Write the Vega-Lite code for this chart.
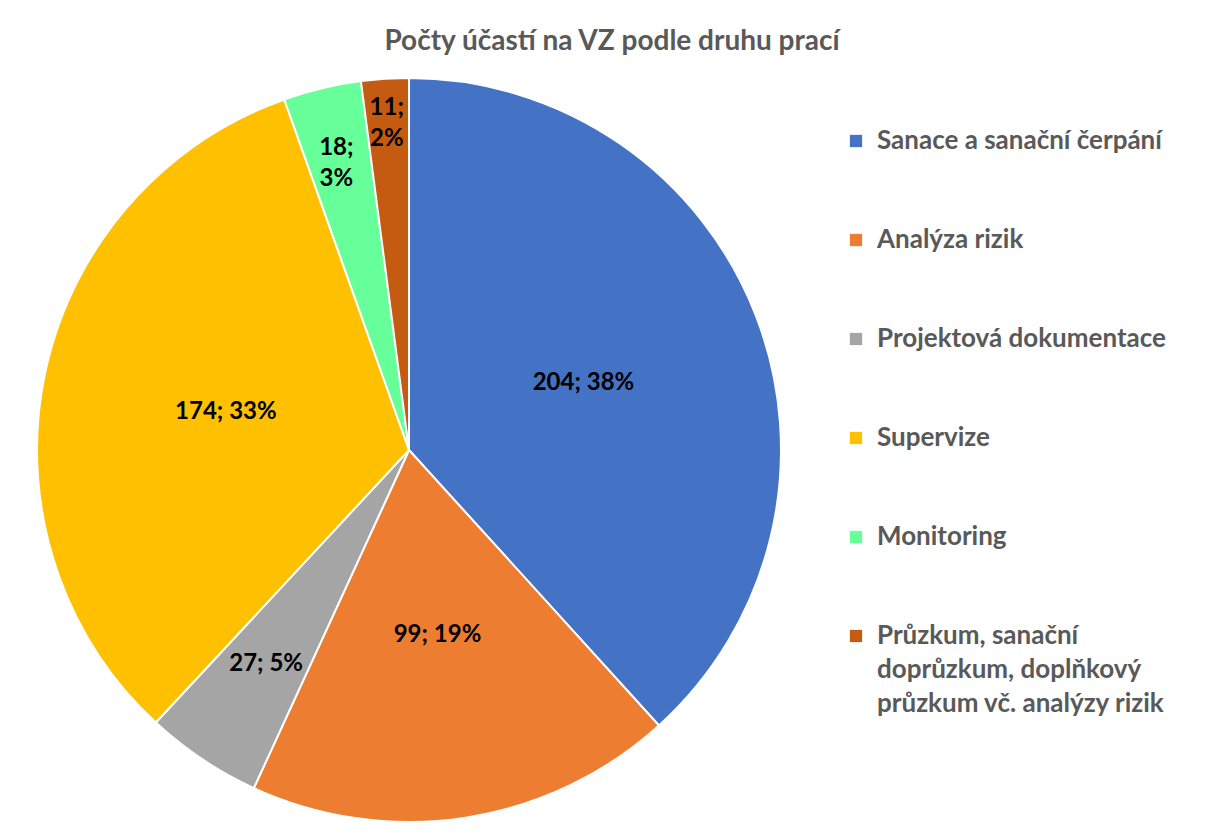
{
  "$schema": "https://vega.github.io/schema/vega-lite/v6.json",
  "padding": {"left": 0, "top": 28, "right": 0, "bottom": 0},
  "width": 818,
  "height": 784,
  "background": "white",
  "title": {
    "text": "Počty účastí na VZ podle druhu prací",
    "fontSize": 28,
    "font": "Lato",
    "fontWeight": "bold",
    "color": "#595959",
    "anchor": "middle",
    "dx": 203,
    "offset": 2
  },
  "data": {
    "values": [
      {"category": "Sanace a sanační čerpání", "count": 204},
      {"category": "Analýza rizik", "count": 99},
      {"category": "Projektová dokumentace", "count": 27},
      {"category": "Supervize", "count": 174},
      {"category": "Monitoring", "count": 18},
      {"category": "Průzkum, sanační doprůzkum, doplňkový průzkum vč. analýzy rizik", "count": 11}
    ]
  },
  "transform": [
    {"window": [{"op": "row_number", "as": "idx"}]},
    {"joinaggregate": [{"op": "sum", "field": "count", "as": "total"}]},
    {"calculate": "format(datum.count / datum.total, '.0%')", "as": "pct"},
    {"calculate": "datum.count < 20 ? [datum.count + ';', datum.pct] : datum.count + '; ' + datum.pct", "as": "label"}
  ],
  "encoding": {
    "theta": {"field": "count", "type": "quantitative", "stack": true},
    "order": {"field": "idx", "type": "quantitative", "sort": "ascending"},
    "color": {
      "field": "category",
      "type": "nominal",
      "sort": ["Sanace a sanační čerpání", "Analýza rizik", "Projektová dokumentace", "Supervize", "Monitoring", "Průzkum, sanační doprůzkum, doplňkový průzkum vč. analýzy rizik"],
      "scale": {
        "domain": ["Sanace a sanační čerpání", "Analýza rizik", "Projektová dokumentace", "Supervize", "Monitoring", "Průzkum, sanační doprůzkum, doplňkový průzkum vč. analýzy rizik"],
        "range": ["#4472C4", "#ED7D31", "#A5A5A5", "#FFC000", "#66FF99", "#C55A11"]
      },
      "legend": {
        "orient": "none",
        "legendX": 843,
        "legendY": 70,
        "title": null,
        "symbolType": "square",
        "symbolSize": 150,
        "symbolStrokeWidth": 0,
        "labelFont": "Lato",
        "labelFontSize": 26,
        "labelFontWeight": "bold",
        "labelColor": "#595959",
        "labelLimit": 400,
        "labelOffset": 8,
        "rowPadding": 73,
        "labelExpr": "indexof(datum.label, 'Průzkum') == 0 ? ['Průzkum, sanační', 'doprůzkum, doplňkový', 'průzkum vč. analýzy rizik'] : datum.label"
      }
    }
  },
  "layer": [
    {
      "mark": {"type": "arc", "outerRadius": 372, "stroke": "white", "strokeWidth": 2}
    },
    {
      "mark": {
        "type": "text",
        "font": "Lato",
        "fontSize": 24,
        "fontWeight": "bold",
        "lineHeight": 31,
        "radius": {"expr": "datum.count < 15 ? 343 : datum.count < 20 ? 311 : datum.count < 30 ? 257 : 187"}
      },
      "encoding": {
        "text": {"field": "label"},
        "color": {"value": "black"}
      }
    }
  ],
  "config": {
    "view": {"stroke": null},
    "style": {"guide-label": {"lineHeight": 34}}
  }
}
